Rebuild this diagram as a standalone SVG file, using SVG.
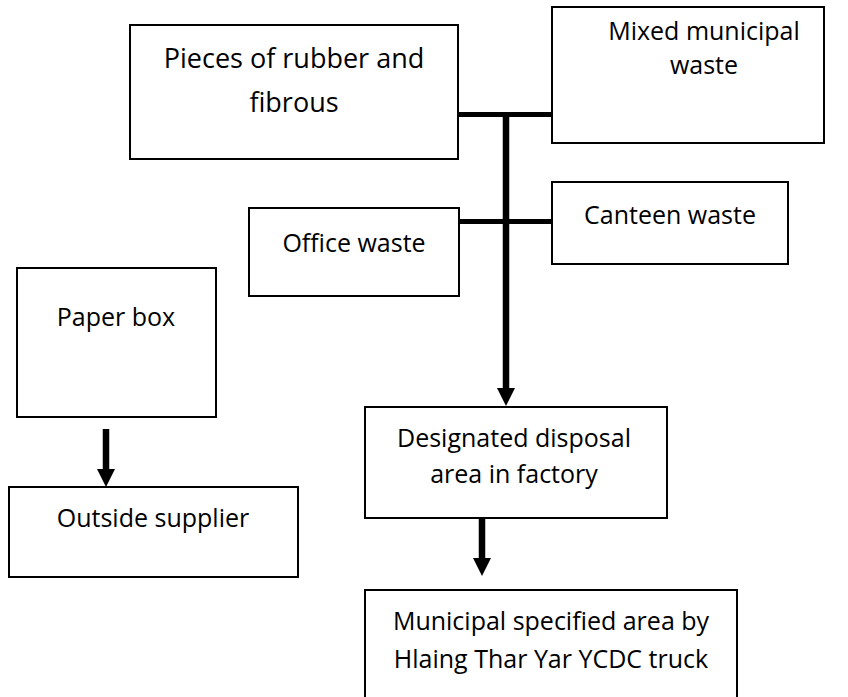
<svg xmlns="http://www.w3.org/2000/svg" width="848" height="697" viewBox="0 0 848 697">
  <style>
    .box { fill: #ffffff; stroke: #000000; stroke-width: 2; }
    .lbl { font-family: "Open Sans", "Noto Sans", "Liberation Sans", sans-serif; font-size: 25px; fill: #000000; text-anchor: middle; }
    .big { font-size: 27px; }
    .bus { stroke: #000000; stroke-width: 5; fill: none; }
    .flow { stroke: #000000; stroke-width: 6.5; fill: none; }
    .head { fill: #000000; }
  </style>
  <defs>
    <!-- downward arrowhead, tip at origin -->
    <polygon id="down-head" class="head" points="-9,-18 9,-18 0,0"/>
  </defs>

  <rect width="848" height="697" fill="#ffffff"/>

  <g id="connectors">
    <!-- top collector bus -->
    <line class="bus" x1="458" y1="114.5" x2="552" y2="114.5"/>
    <!-- middle collector bus -->
    <line class="bus" x1="459" y1="221.5" x2="552" y2="221.5"/>
    <!-- main drop to disposal area -->
    <line class="flow" x1="506" y1="112" x2="506" y2="390"/>
    <use href="#down-head" x="506" y="406"/>
    <!-- disposal area to municipal area -->
    <line class="flow" x1="482" y1="518" x2="482" y2="560"/>
    <use href="#down-head" x="482" y="576"/>
    <!-- paper box to supplier -->
    <line class="flow" x1="106" y1="429" x2="106" y2="471"/>
    <use href="#down-head" x="106" y="487"/>
  </g>

  <g id="rubber-fibrous">
    <rect class="box" x="130" y="25" width="328" height="134"/>
    <text class="lbl big" x="294" y="68">Pieces of rubber and</text>
    <text class="lbl big" x="294" y="112">fibrous</text>
  </g>

  <g id="mixed-municipal">
    <rect class="box" x="552" y="7" width="272" height="136"/>
    <text class="lbl" x="704" y="40">Mixed municipal</text>
    <text class="lbl" x="704" y="74">waste</text>
  </g>

  <g id="office-waste">
    <rect class="box" x="249" y="208" width="210" height="88"/>
    <text class="lbl" x="354" y="252">Office waste</text>
  </g>

  <g id="canteen-waste">
    <rect class="box" x="552" y="182" width="236" height="82"/>
    <text class="lbl" x="670" y="224">Canteen waste</text>
  </g>

  <g id="paper-box">
    <rect class="box" x="17" y="268" width="199" height="149"/>
    <text class="lbl" x="116" y="326">Paper box</text>
  </g>

  <g id="outside-supplier">
    <rect class="box" x="9" y="487" width="289" height="90"/>
    <text class="lbl" x="153" y="527">Outside supplier</text>
  </g>

  <g id="disposal-area">
    <rect class="box" x="365" y="407" width="302" height="111"/>
    <text class="lbl" x="514" y="447">Designated disposal</text>
    <text class="lbl" x="514" y="483">area in factory</text>
  </g>

  <g id="municipal-area">
    <rect class="box" x="365" y="590" width="372" height="110"/>
    <text class="lbl" x="551" y="630">Municipal specified area by</text>
    <text class="lbl" x="551" y="668">Hlaing Thar Yar YCDC truck</text>
  </g>
</svg>
